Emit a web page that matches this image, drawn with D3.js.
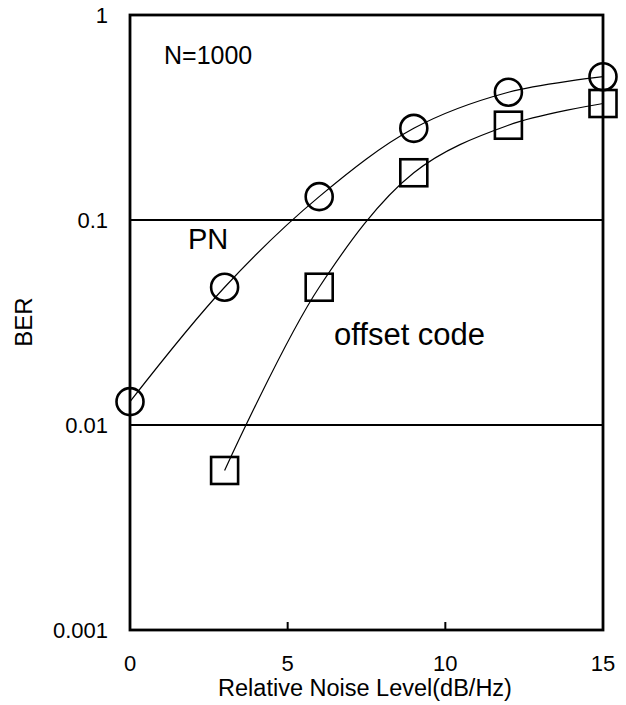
<!DOCTYPE html>
<html>
<head>
<meta charset="utf-8">
<script src="https://cdn.jsdelivr.net/npm/d3@7"></script>
<style>
  body { margin: 0; background: #fff; }
  text { font-family: "Liberation Sans", Arial, sans-serif; fill: #000; }
</style>
</head>
<body>
<div id="chart"></div>
<script>
const W = 626, H = 705

// data
const noiseLevel = [0, 3, 6, 9, 12, 15]
const berPN = [0.013, 0.047, 0.13, 0.28, 0.42, 0.50]
const offsetLevel = [3, 6, 9, 12, 15]
const berOffset = [0.006, 0.047, 0.17, 0.29, 0.37]
const xTicks = [0, 5, 10, 15]
const yTicks = [0.001, 0.01, 0.1, 1]
const yTickLabels = ["0.001", "0.01", "0.1", "1"]

const plotLeft = 130, plotRight = 603, plotTop = 15, plotBottom = 630

const svg = d3.select("#chart").append("svg")
    .attr("width", W).attr("height", H)

const x = d3.scaleLinear().domain([0, 15]).range([plotLeft, plotRight])
const y = d3.scaleLog().domain([0.001, 1]).range([plotBottom, plotTop])

// horizontal grid lines at inner decades
svg.selectAll(".grid")
    .data(yTicks.slice(1, 3))
    .enter().append("line")
    .attr("x1", plotLeft).attr("x2", plotRight)
    .attr("y1", d => y(d)).attr("y2", d => y(d))
    .attr("stroke", "#000").attr("stroke-width", 2.2)

// inner x ticks (bottom)
svg.selectAll(".xt")
    .data(xTicks.slice(1, 3))
    .enter().append("line")
    .attr("x1", d => x(d)).attr("x2", d => x(d))
    .attr("y1", plotBottom).attr("y2", plotBottom - 8)
    .attr("stroke", "#000").attr("stroke-width", 2)

// frame
svg.append("rect")
    .attr("x", plotLeft).attr("y", plotTop)
    .attr("width", plotRight - plotLeft).attr("height", plotBottom - plotTop)
    .attr("fill", "none").attr("stroke", "#000").attr("stroke-width", 2.8)

// tick labels
svg.selectAll(".xl")
    .data(xTicks)
    .enter().append("text")
    .attr("x", d => x(d)).attr("y", 671)
    .attr("text-anchor", "middle")
    .attr("font-size", 22)
    .text(d => d)

svg.selectAll(".yl")
    .data(yTicks)
    .enter().append("text")
    .attr("x", 108).attr("y", d => y(d) + 8)
    .attr("text-anchor", "end")
    .attr("font-size", 22)
    .text((d, i) => yTickLabels[i])

// axis titles
svg.append("text")
    .attr("x", 365).attr("y", 696)
    .attr("text-anchor", "middle")
    .attr("font-size", 23.5)
    .text("Relative Noise Level(dB/Hz)")

svg.append("text")
    .attr("transform", "translate(32,322) rotate(-90)")
    .attr("text-anchor", "middle")
    .attr("font-size", 24)
    .text("BER")

// curves
const line = d3.line()
    .x(d => x(d[0])).y(d => y(d[1]))
    .curve(d3.curveCatmullRom.alpha(0.5))

const pn = noiseLevel.map((v, i) => [v, berPN[i]])
const off = offsetLevel.map((v, i) => [v, berOffset[i]])

svg.append("path").datum(pn).attr("d", line)
    .attr("fill", "none").attr("stroke", "#000").attr("stroke-width", 1.2)
svg.append("path").datum(off).attr("d", line)
    .attr("fill", "none").attr("stroke", "#000").attr("stroke-width", 1.2)

// markers
svg.selectAll(".circ")
    .data(pn)
    .enter().append("circle")
    .attr("cx", d => x(d[0])).attr("cy", d => y(d[1]))
    .attr("r", 13.5)
    .attr("fill", "none").attr("stroke", "#000").attr("stroke-width", 2.6)

svg.selectAll(".sq")
    .data(off)
    .enter().append("rect")
    .attr("x", d => x(d[0]) - 13.5).attr("y", d => y(d[1]) - 13.5)
    .attr("width", 27).attr("height", 27)
    .attr("fill", "none").attr("stroke", "#000").attr("stroke-width", 2.6)

// annotations
svg.append("text").attr("x", 164).attr("y", 64)
    .attr("font-size", 25).text("N=1000")
svg.append("text").attr("x", 188).attr("y", 249)
    .attr("font-size", 29).text("PN")
svg.append("text").attr("x", 334).attr("y", 345)
    .attr("font-size", 31).text("offset code")
</script>
</body>
</html>
